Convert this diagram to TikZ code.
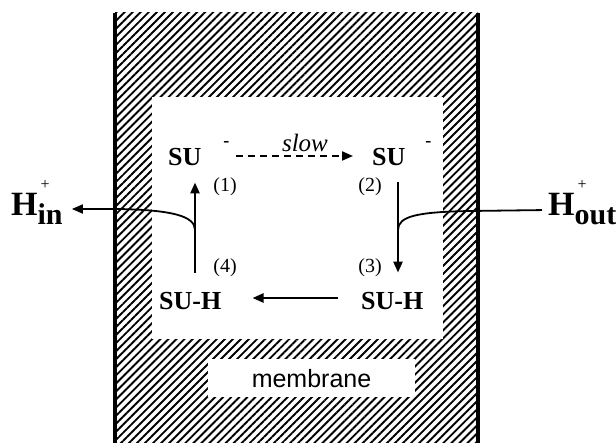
\documentclass[tikz,border=0pt]{standalone}
\usepackage{fontspec}
\setmainfont{Liberation Serif}
\newfontfamily\labelsans{Liberation Sans}
\usetikzlibrary{arrows.meta, patterns.meta}

% proton with charge and side index
\newcommand{\ionlbl}[1]{H\makebox[0pt][l]{\hspace{3pt}\raisebox{26pt}{\fontsize{16}{16}\selectfont\mdseries +}}\raisebox{-9pt}{\fontsize{30}{30}\selectfont #1}}
\newcommand{\anion}{\raisebox{19pt}{\fontsize{18}{18}\selectfont -}}

\begin{document}
\begin{tikzpicture}[
    x=1pt, y=-1pt,
    >={Triangle[length=11pt, width=9pt]},
    spec/.style={font=\fontsize{26}{26}\selectfont\bfseries, inner sep=2pt, anchor=base west},
    ion/.style={font=\fontsize{34}{34}\selectfont\bfseries, inner sep=0pt, anchor=base west},
    stepno/.style={font=\fontsize{20}{20}\selectfont, inner sep=1pt},
    arr/.style={->, line width=2.4pt},
    flow/.style={line width=1.8pt}
]
    \useasboundingbox (0,0) rectangle (616,443);

    % membrane
    \fill[pattern={Lines[angle=45, distance=5.7pt, line width=1.9pt]}] (115,13) rectangle (478,443);
    \draw[line width=4pt] (115,13) -- (115,443);
    \draw[line width=4pt] (478,13) -- (478,443);
    \fill[white] (152,97) rectangle (443,339);
    \node[fill=white, minimum width=207pt, minimum height=38pt,
          font=\labelsans\fontsize{25}{25}\selectfont] (memlbl) at (311.5,378.5) {membrane};

    % carrier states
    \node[spec] (su1) at (166,166) {SU\hspace{22pt}\anion};
    \node[spec] (su2) at (370,166) {SU\hspace{20pt}\anion};
    \node[spec] (suh1) at (157,310) {SU-H};
    \node[spec] (suh2) at (359,310) {SU-H};

    \node[stepno] (n1) at (225,187) {(1)};
    \node[stepno] (n2) at (370,187) {(2)};
    \node[stepno] (n3) at (370,268) {(3)};
    \node[stepno] (n4) at (225,268) {(4)};

    \node[ion] (hin) at (11,216) {\ionlbl{in}};
    \node[ion] (hout) at (548,216) {\ionlbl{out}};

    \coordinate (upx) at (195,0);
    \coordinate (dnx) at (398,0);
    \coordinate (jin) at (195,230);
    \coordinate (jout) at (398,230);

    \draw[arr, line width=2pt, dash pattern=on 7pt off 5pt, shorten <=4pt, shorten >=17pt]
        ([yshift=10pt]su1.base east) -- node[above, pos=0.53, inner sep=3pt,
        font=\fontsize{25}{25}\selectfont\itshape] (slw) {slow} ([yshift=10pt]su2.base west);
    \draw[arr, shorten <=14pt, shorten >=18pt] (su2.south -| dnx) -- (suh2.north -| dnx);
    \draw[arr, shorten <=21pt, shorten >=29pt] ([yshift=12pt]suh2.base west) -- ([yshift=12pt]suh1.base east);
    \draw[arr, shorten <=18pt, shorten >=14pt] (suh1.north -| upx) -- (su1.south -| upx);

    % proton paths
    \draw[flow, ->, shorten >=9pt] (jin) .. controls (195,216) and (172,210) .. (118,209) -- (hin.east |- 0,209);
    \draw[flow, shorten <=6pt] (hout.west |- 0,210) -- (470,211) .. controls (418,212) and (398,216) .. (jout);
\end{tikzpicture}
\end{document}
